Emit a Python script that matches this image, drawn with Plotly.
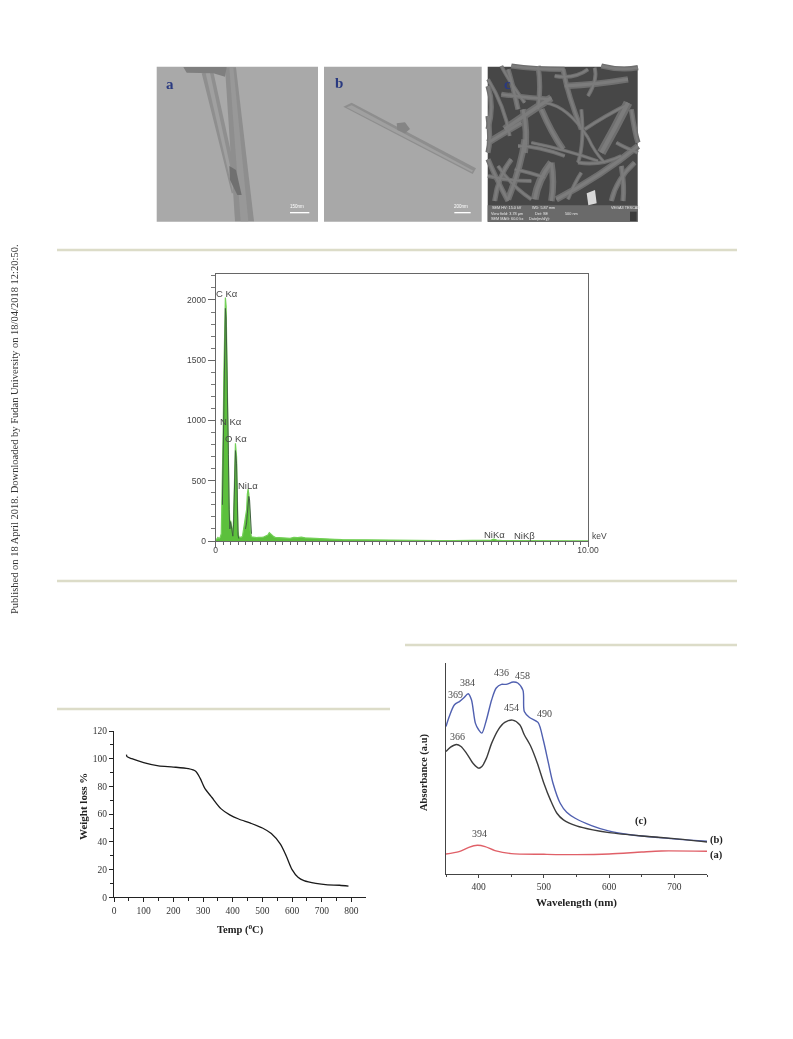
import plotly.graph_objects as go

W, H = 793, 1039

# ---------- EDS spectrum ----------
eds_kev = [0.00,0.03,0.06,0.09,0.12,0.15,0.18,0.20,0.22,0.24,0.26,0.28,0.30,0.32,0.34,0.36,0.38,0.40,0.42,0.44,0.46,0.48,0.50,0.53,0.56,0.58,0.60,0.62,0.65,0.68,0.72,0.76,0.80,0.83,0.85,0.87,0.89,0.91,0.93,0.96,1.00,1.05,1.10,1.15,1.20,1.25,1.30,1.35,1.40,1.44,1.48,1.52,1.56,1.60,1.70,1.80,1.90,2.00,2.10,2.20,2.30,2.40,2.50,2.60,2.70,2.80,3.00,3.20,3.40,3.60,3.80,4.00,4.20,4.40,4.60,4.80,5.00,5.30,5.60,6.00,6.40,6.80,7.20,7.40,7.47,7.55,7.70,8.00,8.26,8.60,9.00,9.50,10.00]
eds_green = [5,25,30,20,30,60,440,900,1400,1850,2020,1950,1430,1100,780,320,130,170,130,70,60,180,600,810,700,330,80,35,30,30,40,120,170,260,390,430,390,240,90,35,32,30,28,30,28,30,35,40,50,70,60,42,36,30,30,28,24,22,30,28,32,26,24,20,22,18,16,14,12,11,10,9,8,7,7,6,6,5,5,4,4,4,5,8,15,8,4,3,3,2,2,2,1]
eds_black = [None]*6 + [300,700,1200,1700,1930,1850,1300,950,720,260,100,160,110,50,40,140,540,750,640,280,50,20] + [None]*4 + [100,150,230,340,370,340,200,60] + [None]*(93-46)
eds_yticks = [0,500,1000,1500,2000]
eds_labels = [("C K\u03b1",227,293),("N K\u03b1",231,421),("O K\u03b1",236,438),("NiL\u03b1",248,485),("NiK\u03b1",494,534),("NiK\u03b2",524,535)]

# ---------- TGA ----------
tga_temp = [42,44,60,100,150,200,250,275,290,305,330,360,390,420,460,500,530,560,580,600,620,640,680,720,760,790]
tga_weight = [103,101.5,100,97.2,94.8,94,92.8,91,86,79,72,64,59.5,56.5,53.5,50,46,38.5,30,20,14.5,12,10,9,8.7,8]
tga_xticks = [0,100,200,300,400,500,600,700,800]
tga_yticks = [0,20,40,60,80,100,120]

# ---------- UV-vis (arbitrary units) ----------
uv_blue_x = [350,355,363,371,377,384,389,395,400,405,412,420,427,435,442,453,460,468,470,478,491,499,507,514,525,535,548,573,599,635,676,750]
uv_blue_y = [442,472,507,517,527,540,522,452,432,422,462,522,557,568,568,575,572,550,487,469,454,402,332,272,212,185,167,145,129,117,109,98]
uv_black_x = [350,357,366,373,382,392,400,405,412,420,430,440,452,463,470,480,490,500,510,520,530,550,575,600,650,700,750]
uv_black_y = [367,380,388,382,360,330,317,322,347,392,432,454,461,447,417,382,332,272,222,182,162,144,132,124,114,106,96]
uv_red_x = [350,370,385,398,410,425,450,500,550,600,650,680,750]
uv_red_y = [60,67,80,86,82,70,61,59,58,60,66,69,68]
uv_xticks = [400,500,600,700]
uv_labels = [("369",455,694),("384",467,682),("436",501,672),("458",522,675),("490",544,713),("454",511,707),("366",457,736),("394",479,833)]

def px(x): return x / W
def py(y): return 1 - y / H
def pt(x, y): return f"{px(x):.5f} {py(y):.5f}"
def z(x, y): return 150 + x / 3, 60 + y / 3
def c(x, y): return 488 + x / 3, 66 + y / 3

fig = go.Figure()

# EDS
fig.add_trace(go.Scatter(x=eds_kev, y=eds_green, mode="lines", fill="tozeroy", fillcolor="#5cc03c",
                         line=dict(color="#74d058", width=1.2), xaxis="x", yaxis="y", showlegend=False))
fig.add_trace(go.Scatter(x=eds_kev, y=eds_black, mode="lines", connectgaps=False,
                         line=dict(color="#3f5f3f", width=1), xaxis="x", yaxis="y", showlegend=False))
# TGA
fig.add_trace(go.Scatter(x=tga_temp, y=tga_weight, mode="lines", line=dict(color="#1a1a1a", width=1.3, shape="spline", smoothing=0.8),
                         xaxis="x2", yaxis="y2", showlegend=False))
# UV
fig.add_trace(go.Scatter(x=uv_blue_x, y=uv_blue_y, mode="lines", line=dict(color="#5060b0", width=1.4, shape="spline", smoothing=0.8),
                         xaxis="x3", yaxis="y3", showlegend=False))
fig.add_trace(go.Scatter(x=uv_black_x, y=uv_black_y, mode="lines", line=dict(color="#3c3c3c", width=1.4, shape="spline", smoothing=0.8),
                         xaxis="x3", yaxis="y3", showlegend=False))
fig.add_trace(go.Scatter(x=uv_red_x, y=uv_red_y, mode="lines", line=dict(color="#e06068", width=1.4, shape="spline", smoothing=0.8),
                         xaxis="x3", yaxis="y3", showlegend=False))
# invisible page-wide axes that carry all free text (pixel positions on the page)
fig.add_trace(go.Scatter(x=[None], y=[None], mode="lines", xaxis="x4", yaxis="y4", showlegend=False, hoverinfo="skip"))

eds_font = dict(family="Liberation Sans", size=8.5, color="#444444")
serif = dict(family="Liberation Serif", size=9.5, color="#333333")
serif_b = dict(family="Liberation Serif", size=10.5, color="#222222")
title_font = dict(family="Liberation Serif", size=11, color="#222222")

layout = dict(
    width=W, height=H, margin=dict(l=0, r=0, t=0, b=0, autoexpand=False), paper_bgcolor="white", plot_bgcolor="rgba(0,0,0,0)",
    xaxis=dict(domain=[px(215.7), px(588)], anchor="y", range=[0, 10], tickvals=[0, 10], ticktext=["0", "10.00"],
               showgrid=False, zeroline=False, showline=True, linecolor="#666666", mirror=True, linewidth=1,
               ticks="outside", ticklen=5, tickcolor="#666666", tickfont=eds_font, ticklabelstandoff=-4,
               minor=dict(tickvals=[i / 5 for i in range(1, 50)], ticks="outside", ticklen=2.5, tickcolor="#666666")),
    yaxis=dict(domain=[py(541), py(274.3)], anchor="x", range=[0, 2213], tickvals=eds_yticks,
               showgrid=False, zeroline=False, showline=True, linecolor="#666666", mirror=True, linewidth=1,
               ticks="outside", ticklen=7, tickcolor="#666666", tickfont=eds_font,
               minor=dict(dtick=100, tick0=0, ticks="outside", ticklen=4, tickcolor="#777777")),
    xaxis2=dict(domain=[px(114), px(366)], anchor="y2", range=[0, 849], tickvals=tga_xticks,
                showgrid=False, zeroline=False, showline=True, linecolor="#222222", linewidth=1.2,
                ticks="outside", ticklen=4, tickcolor="#222222", tickfont=serif,
                minor=dict(dtick=50, tick0=0, ticks="outside", ticklen=2.5, tickcolor="#222222")),
    yaxis2=dict(domain=[py(897.3), py(731)], anchor="x2", range=[0, 120], tickvals=tga_yticks,
                showgrid=False, zeroline=False, showline=True, linecolor="#222222", linewidth=1.2,
                ticks="outside", ticklen=4, tickcolor="#222222", tickfont=serif,
                minor=dict(dtick=10, tick0=0, ticks="outside", ticklen=2.5, tickcolor="#222222")),
    xaxis3=dict(domain=[px(446), px(707)], anchor="y3", range=[350, 750], tickvals=uv_xticks,
                showgrid=False, zeroline=False, showline=True, linecolor="#444444", linewidth=1.2,
                ticks="outside", ticklen=3, tickcolor="#444444", tickfont=serif,
                minor=dict(dtick=50, tick0=350, ticks="outside", ticklen=2, tickcolor="#444444")),
    yaxis3=dict(domain=[py(874), py(663)], anchor="x3", range=[0, 632], showticklabels=False, ticks="",
                showgrid=False, zeroline=False, showline=True, linecolor="#444444", linewidth=1.2),
    xaxis4=dict(domain=[0, 1], range=[0, W], visible=False, anchor="y4", fixedrange=True),
    yaxis4=dict(domain=[0, 1], range=[H, 0], visible=False, anchor="x4", fixedrange=True),
)

ann = []
def text(t, x, y, font, angle=0, xanchor="center"):
    ann.append(dict(text=t, x=x, y=y, xref="x4", yref="y4", showarrow=False, font=font,
                    textangle=angle, xanchor=xanchor, yanchor="middle"))

for t, x, y in eds_labels:
    text(t, x, y, dict(family="Liberation Sans", size=9.5, color="#484848"))
text("keV", 599, 536, dict(family="Liberation Sans", size=8.5, color="#444444"))
for t, x, y in uv_labels:
    text(t, x, y, dict(family="Liberation Serif", size=10, color="#484848"))
text("<b>(c)</b>", 641, 821, serif_b)
text("<b>(b)</b>", 716, 840, serif_b)
text("<b>(a)</b>", 716, 855, serif_b)
text("<b>Absorbance (a.u)</b>", 424, 772, serif_b, angle=-90)
text("<b>Wavelength (nm)</b>", 576, 902, title_font)
text("<b>Weight loss %</b>", 83, 807, title_font, angle=-90)
text("<b>Temp (<sup>o</sup>C)</b>", 240, 929, dict(family="Liberation Serif", size=10.5, color="#222222"))
text("Published on 18 April 2018. Downloaded by Fudan University on 18/04/2018 12:20:50.", 14, 429,
     dict(family="Liberation Serif", size=10.5, color="#333333"), angle=-90)
text("<b>a</b>", *z(61, 72), dict(family="Liberation Serif", size=15, color="#2a3a80"))
text("<b>b</b>", *z(566, 70), dict(family="Liberation Serif", size=15, color="#2a3a80"))
text("<b>c</b>", *z(1071, 72), dict(family="Liberation Serif", size=15, color="#2a3a80"))
text("150nm", *z(440, 440), dict(family="Liberation Sans", size=4.5, color="white"))
text("200nm", *z(932, 440), dict(family="Liberation Sans", size=4.5, color="white"))
for t, x, y in [("SEM HV: 15.0 kV",1070,445),("WD: 5.87 mm",1180,445),("VEGA3 TESCAN",1425,445),
                ("View field: 3.78 \u03bcm",1070,461),("Det: SE",1175,461),("500 nm",1265,461),
                ("SEM MAG: 60.0 kx",1070,477),("Date(m/d/y): ",1170,477)]:
    text(t, *z(x, y), dict(family="Liberation Sans", size=3.8, color="#e8e8e8"))
layout["annotations"] = ann

shapes = []
def rect(x0, y0, x1, y1, color):
    shapes.append(dict(type="rect", xref="paper", yref="paper", x0=px(x0), x1=px(x1), y0=py(y0), y1=py(y1),
                       fillcolor=color, line=dict(width=0), layer="below"))
def poly(points, color, fn=z):
    path = "M " + " L ".join(pt(*fn(*p)) for p in points) + " Z"
    shapes.append(dict(type="path", xref="paper", yref="paper", path=path, fillcolor=color, line=dict(width=0), layer="below"))
def curve(a, b, d, color, width):
    path = "M " + pt(*c(*a)) + " Q " + pt(*c(*b)) + " " + pt(*c(*d))
    shapes.append(dict(type="path", xref="paper", yref="paper", path=path, line=dict(color=color, width=width), layer="below"))

# separators
for x0, x1, y in [(57, 737, 250), (57, 737, 581), (405, 737, 645), (57, 390, 709)]:
    rect(x0, y - 1.3, x1, y + 1.3, "#dcdcc8")

# panel a
rect(156.7, 66.7, 318, 221.7, "#a9a9a9")
poly([(155, 40), (190, 35), (270, 400), (245, 400)], "#8f8f8f")
poly([(167, 40), (180, 38), (258, 400), (250, 400)], "#a0a0a0")
poly([(225, 22), (258, 22), (312, 484), (255, 484)], "#8e8e8e")
poly([(238, 22), (250, 22), (295, 484), (272, 484)], "#989898")
poly([(100, 21), (230, 21), (225, 50), (190, 40), (110, 38)], "#7f7f7f")
poly([(238, 318), (258, 330), (275, 405), (262, 405), (240, 360)], "#707070")
rect(*z(420, 456), *z(478, 460), "white")
# panel b
rect(324, 66.7, 481.7, 221.7, "#a8a8a8")
poly([(580, 140), (605, 128), (978, 325), (968, 342)], "#8e8e8e")
poly([(590, 142), (605, 136), (970, 332), (965, 336)], "#a0a0a0")
poly([(740, 190), (765, 187), (780, 207), (765, 220), (742, 210)], "#858585")
rect(*z(913, 456), *z(962, 460), "white")
# panel c
rect(487.7, 66.7, 637.7, 221.7, "#474747")
fibres = [
 ((230,60),(330,55),(420,40),5),((0,40),(50,120),(65,210),3),((40,85),(110,95),(190,100),4),
 ((50,190),(120,140),(190,95),6),((160,130),(190,200),(225,250),5),((105,130),(120,200),(110,260),5),
 ((340,260),(380,190),(420,110),7),((290,190),(350,150),(420,115),3),((205,400),(340,330),(450,240),5),
 ((60,400),(100,300),(110,220),5),((140,400),(150,340),(190,290),6),((190,290),(200,350),(190,405),5),
 ((0,230),(40,205),(100,170),5),((0,150),(10,220),(0,260),4),((60,10),(75,60),(90,130),4),
 ((150,0),(160,60),(150,130),4),((225,10),(240,90),(280,190),4),((320,5),(330,40),(300,90),3),
 ((80,310),(130,320),(170,335),3),((20,405),(30,330),(70,280),4),((240,400),(260,350),(280,320),3),
 ((370,405),(385,340),(440,290),4),((270,290),(340,300),(400,270),3),((385,230),(410,245),(450,260),3),
 ((430,130),(440,200),(450,230),4),((0,60),(20,120),(0,190),4),((0,280),(25,340),(60,405),4),
 ((90,240),(150,240),(230,270),3),((70,0),(140,10),(230,10),4),((340,0),(400,15),(450,5),4),
 ((110,110),(60,40),(40,0),3),((280,130),(290,230),(270,290),3),((400,300),(410,360),(405,405),4),
 ((0,330),(60,345),(130,345),3),((170,110),(240,120),(300,215),2.5),((300,215),(320,260),(350,290),2.5),
 ((130,230),(230,250),(330,285),2.5),((200,30),(260,40),(300,10),3),((130,400),(70,360),(30,300),3),
]
for a, b, d, w in fibres:
    curve(a, b, d, "#6f6f6f", w * 1.3)
for a, b, d, w in fibres:
    curve(a, b, d, "#7c7c7c", w * 0.6)
rect(*z(1013, 436), *z(1463, 485), "#6a6a6a")
poly([(1310, 400), (1335, 390), (1340, 430), (1315, 436)], "#d8d8d8")
rect(*z(1440, 455), *z(1460, 483), "#3a3a3a")
layout["shapes"] = shapes

fig.update_layout(**layout)
fig.write_html("out.html", config=dict(displayModeBar=False),
               post_script="document.body.style.margin='0';document.documentElement.style.overflow='hidden';"
                           "document.querySelector('.plotly-graph-div').style.filter='blur(0.6px)';")
